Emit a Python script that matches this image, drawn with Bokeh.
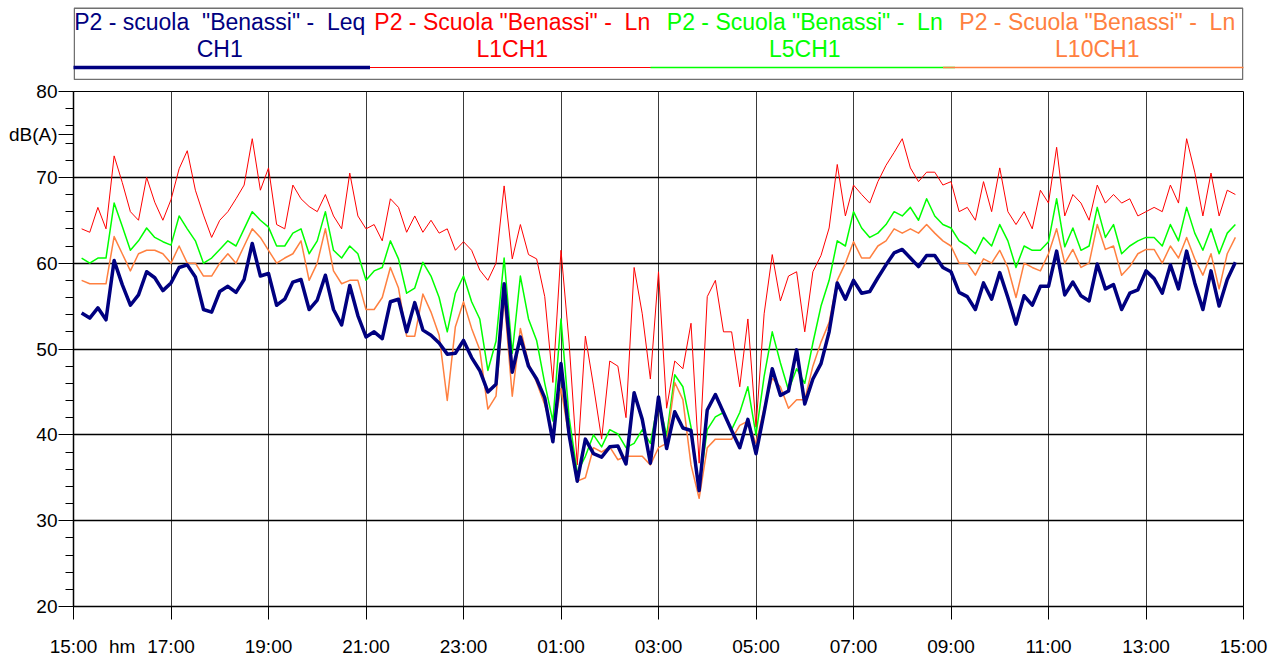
import numpy as np
import pandas as pd
from bokeh.plotting import figure
from bokeh.layouts import column
from bokeh.models import Range1d, FixedTicker, ColumnDataSource
from bokeh.core.properties import value
from bokeh.embed import file_html
from bokeh.resources import INLINE

# ---------------- data ----------------
t0 = pd.Timestamp("2021-01-01 15:00")
times = pd.date_range("2021-01-01 15:10", periods=143, freq="10min")

leq = [54.2, 53.6, 54.8, 53.4, 60.3, 57.5, 55.1, 56.3, 59.0, 58.3, 56.8, 57.7, 59.5, 59.8, 58.4, 54.6,
       54.3, 56.7, 57.3, 56.6, 58.1, 62.3, 58.5, 58.8, 55.1, 55.8, 57.8, 58.1, 54.6, 55.7, 58.6, 54.6,
       52.8, 57.4, 53.9, 51.4, 52.0, 51.2, 55.5, 55.8, 52.0, 55.4, 52.2, 51.6, 50.7, 49.4, 49.5, 51.0,
       49.0, 47.5, 45.0, 45.9, 57.6, 47.3, 51.4, 48.0, 46.5, 44.3, 39.2, 48.3, 40.0, 34.6, 39.5, 37.8,
       37.4, 38.6, 38.7, 36.6, 44.9, 41.8, 36.7, 44.4, 38.4, 42.7, 40.8, 40.5, 33.5, 42.9, 44.7, 42.6,
       40.5, 38.5, 41.8, 37.8, 42.6, 47.7, 44.6, 45.1, 49.9, 43.6, 46.5, 48.3, 52.0, 57.7, 55.8, 58.0,
       56.5, 56.7, 58.3, 59.8, 61.2, 61.6, 60.6, 59.6, 60.9, 60.9, 59.5, 59.0, 56.6, 56.1, 54.6, 57.7,
       55.8, 58.9, 56.0, 52.9, 56.2, 55.1, 57.3, 57.3, 61.4, 56.3, 57.8, 56.2, 55.6, 59.9, 57.0, 57.5,
       54.6, 56.5, 56.9, 59.1, 58.2, 56.5, 59.8, 57.0, 61.4, 57.7, 54.6, 59.1, 55.0, 58.1, 60.1]

ln1 = [64.0, 63.6, 66.5, 64.0, 72.5, 69.4, 66.0, 65.0, 70.0, 67.1, 65.0, 67.4, 71.0, 73.1, 68.5, 65.6,
       63.0, 65.0, 66.0, 67.5, 69.1, 74.5, 68.5, 71.1, 64.5, 64.0, 69.1, 67.5, 66.6, 66.0, 68.0, 65.5,
       64.0, 70.5, 65.5, 64.0, 64.5, 62.6, 67.5, 66.5, 63.6, 65.5, 63.6, 65.0, 63.5, 64.0, 61.5, 62.5,
       61.5, 59.2, 58.0, 60.0, 69.0, 60.5, 64.5, 61.0, 60.5, 56.1, 46.1, 61.5, 50.7, 36.5, 51.5, 45.7,
       39.5, 48.6, 48.0, 42.0, 59.5, 54.1, 46.5, 59.0, 43.1, 48.6, 47.7, 53.0, 36.7, 56.1, 58.0, 52.0,
       52.0, 45.6, 53.5, 40.9, 54.1, 61.0, 55.6, 58.5, 59.0, 52.0, 59.0, 60.9, 64.1, 71.5, 65.5, 69.1,
       68.0, 67.0, 69.5, 71.4, 72.9, 74.5, 71.1, 69.5, 70.6, 70.6, 69.1, 69.5, 66.0, 66.5, 65.0, 69.5,
       66.0, 71.1, 66.0, 64.5, 66.0, 64.0, 68.5, 67.0, 73.5, 65.5, 68.0, 67.0, 65.0, 69.1, 67.0, 68.0,
       67.0, 67.5, 65.5, 66.0, 66.5, 66.0, 69.1, 67.0, 74.5, 70.6, 65.5, 70.5, 65.5, 68.5, 68.0]

ln5 = [60.6, 60.0, 60.6, 60.6, 67.0, 64.3, 61.5, 62.6, 64.1, 63.0, 62.5, 62.1, 65.5, 64.0, 62.6, 60.0,
       60.6, 61.6, 62.6, 62.0, 64.0, 66.0, 65.0, 64.2, 62.0, 62.0, 63.5, 64.0, 61.1, 62.6, 66.0, 61.5,
       60.6, 62.0, 61.1, 58.0, 59.1, 59.5, 62.6, 60.5, 56.5, 57.1, 60.1, 58.5, 56.0, 52.0, 56.5, 58.5,
       55.5, 53.5, 47.5, 50.9, 60.6, 49.5, 58.5, 53.5, 51.0, 46.0, 41.6, 53.5, 42.0, 35.6, 37.5, 40.0,
       38.6, 40.6, 40.1, 38.5, 39.0, 40.6, 39.0, 44.1, 39.9, 47.0, 45.6, 40.9, 33.7, 40.6, 42.1, 42.6,
       40.6, 42.6, 45.6, 40.0, 46.8, 52.0, 48.4, 45.2, 47.7, 46.0, 50.7, 55.0, 58.0, 62.6, 62.0, 66.0,
       64.1, 63.0, 63.5, 64.5, 66.0, 65.5, 66.5, 65.0, 67.5, 65.5, 64.5, 64.1, 62.6, 62.0, 61.1, 63.0,
       62.0, 64.5, 62.6, 59.5, 62.0, 61.5, 61.5, 62.5, 67.5, 61.9, 64.1, 61.5, 62.0, 66.5, 63.0, 64.5,
       61.1, 62.0, 62.6, 63.0, 63.0, 62.0, 64.5, 62.6, 66.5, 63.5, 61.5, 64.0, 61.1, 63.5, 64.5]

ln10 = [58.0, 57.6, 57.6, 57.6, 63.1, 61.1, 59.1, 61.1, 61.5, 61.5, 61.1, 60.0, 62.0, 60.0, 60.0, 58.5,
        58.5, 60.0, 61.1, 60.0, 62.0, 64.0, 63.0, 61.5, 60.0, 60.6, 61.1, 62.6, 58.0, 60.0, 64.0, 59.1,
        57.6, 58.0, 58.0, 54.6, 54.6, 56.0, 59.5, 57.1, 51.5, 51.5, 56.4, 54.3, 51.6, 44.0, 52.6, 55.5,
        52.4, 49.9, 43.0, 44.5, 56.0, 44.5, 52.4, 48.4, 46.1, 43.5, 40.1, 45.4, 39.7, 34.6, 35.0, 38.5,
        38.0, 38.6, 37.1, 37.5, 37.5, 37.5, 36.5, 38.5, 39.0, 46.1, 44.1, 36.5, 32.6, 38.5, 39.5, 39.5,
        39.5, 41.1, 41.6, 39.0, 43.1, 46.6, 45.6, 43.1, 44.1, 44.1, 48.0, 50.8, 53.1, 58.0, 60.0, 62.5,
        60.6, 60.6, 62.0, 62.6, 64.0, 63.5, 64.0, 63.5, 64.5, 63.5, 62.6, 62.0, 60.0, 60.0, 58.6, 60.5,
        60.0, 61.5, 59.5, 56.0, 60.0, 59.5, 59.1, 61.1, 64.0, 60.0, 61.6, 59.5, 60.0, 64.5, 61.6, 62.0,
        58.6, 59.6, 61.1, 61.6, 61.6, 60.0, 62.0, 60.6, 63.0, 60.5, 58.6, 61.1, 57.0, 61.1, 63.0]

series_names_1 = ['P2 - scuola \u00a0"Benassi" - \u00a0Leq', 'P2 - Scuola "Benassi" - \u00a0Ln',
                  'P2 - Scuola "Benassi" - \u00a0Ln', 'P2 - Scuola "Benassi" - \u00a0Ln']
series_names_2 = ["CH1", "L1CH1", "L5CH1", "L10CH1"]
series_colors = ["#000080", "#ff0000", "#00ff00", "#ff8040"]
series_widths = [3.5, 1.0, 1.5, 1.5]

x_grid_hours = [0, 2, 4, 6, 8, 10, 12, 14, 16, 18, 20, 22, 24]
x_tick_labels = ["15:00", "17:00", "19:00", "21:00", "23:00", "01:00", "03:00",
                 "05:00", "07:00", "09:00", "11:00", "13:00", "15:00"]
x_unit_hour = 1
x_unit_label = "hm"
y_ticks = [20, 30, 40, 50, 60, 70, 80]
y_unit_pos = 75
y_unit_label = "dB(A)"
y_minor = [v for v in range(20, 81, 2) if v % 10]

hours = ((times - t0) / pd.Timedelta(hours=1)).to_numpy()

FONT = "Liberation Sans"
W = 1281
BL, BR = 73, 38          # left / right borders shared by both figures
FL, FR = BL, W - BR      # frame edges in page pixels

# ---------------- legend figure ----------------
LH = 80
lg = figure(width=W, height=LH, x_range=Range1d(FL, FR), y_range=Range1d(LH, 0),
            output_backend="svg", toolbar_location=None,
            x_axis_location=None, y_axis_location=None,
            min_border_left=BL, min_border_right=BR, min_border_top=0, min_border_bottom=0)
lg.grid.visible = False
lg.outline_line_color = None
lg.background_fill_color = "white"
lg.border_fill_color = "white"

ew = (FR - FL) / 4
centers = [FL + ew * (i + 0.5) for i in range(4)]
lg.quad(left=[FL + 0.75], right=[FR - 0.75], top=[7.75], bottom=[79], fill_color=None,
        line_color="#707070", line_width=1.5)

sx0 = [FL + ew * i - 8 for i in range(4)]
sx1 = [FL + ew * (i + 1) + 4 for i in range(4)]
for i in [1, 2, 3, 0]:
    lg.segment(x0=[sx0[i]], y0=[67], x1=[sx1[i]], y1=[67],
               line_color=series_colors[i], line_width=series_widths[i])

lsrc = ColumnDataSource(dict(x=centers, t1=series_names_1, t2=series_names_2, c=series_colors))
lg.text(x="x", y=21.5, text="t1", source=lsrc, text_align="center", text_baseline="middle",
        text_color="c", text_font=value(FONT), text_font_size="23px")
lg.text(x="x", y=48.5, text="t2", source=lsrc, text_align="center", text_baseline="middle",
        text_color="c", text_font=value(FONT), text_font_size="23px")

# ---------------- main figure ----------------
p = figure(width=W, height=659 - LH, x_range=Range1d(0, 24), y_range=Range1d(20, 80),
           output_backend="svg", toolbar_location=None,
           min_border_left=BL, min_border_right=BR, min_border_top=11, min_border_bottom=38)
p.background_fill_color = "white"
p.border_fill_color = "white"
p.outline_line_color = "black"
p.outline_line_width = 1

p.xgrid.ticker = FixedTicker(ticks=x_grid_hours)
p.xgrid.grid_line_color = "#3a3a3a"
p.xgrid.grid_line_width = 1
p.ygrid.ticker = FixedTicker(ticks=y_ticks)
p.ygrid.grid_line_color = "black"
p.ygrid.grid_line_width = 1.5

label_hours = [x_grid_hours[0], x_unit_hour] + x_grid_hours[1:]
overrides = dict(zip(x_grid_hours, x_tick_labels))
overrides[x_unit_hour] = x_unit_label

xa = p.xaxis[0]
xa.ticker = FixedTicker(ticks=label_hours, minor_ticks=x_grid_hours)
xa.major_label_overrides = overrides
xa.axis_line_color = "black"
xa.axis_line_width = 1.5
xa.major_tick_out = 0
xa.major_tick_in = 0
xa.minor_tick_out = 13
xa.minor_tick_in = 0
xa.minor_tick_line_color = "black"
xa.major_label_standoff = 16
xa.major_label_text_font = FONT
xa.major_label_text_font_size = "19px"
xa.major_label_text_color = "black"

ya = p.yaxis[0]
ya.ticker = FixedTicker(ticks=y_ticks + [y_unit_pos], minor_ticks=y_minor)
ya.major_label_overrides = {y_unit_pos: y_unit_label}
ya.axis_line_color = "black"
ya.axis_line_width = 1.5
ya.major_tick_out = 15
ya.major_tick_in = 0
ya.minor_tick_out = 8
ya.minor_tick_in = 0
ya.major_tick_line_color = "black"
ya.minor_tick_line_color = "black"
ya.major_label_standoff = 1
ya.major_label_text_font = FONT
ya.major_label_text_font_size = "19px"
ya.major_label_text_color = "black"

series = [leq, ln1, ln5, ln10]
for i in [1, 2, 3, 0]:
    p.line(hours, series[i], line_color=series_colors[i], line_width=series_widths[i],
           line_join="round")

layout = column(lg, p)
open("out.html", "w").write(file_html(layout, INLINE))
